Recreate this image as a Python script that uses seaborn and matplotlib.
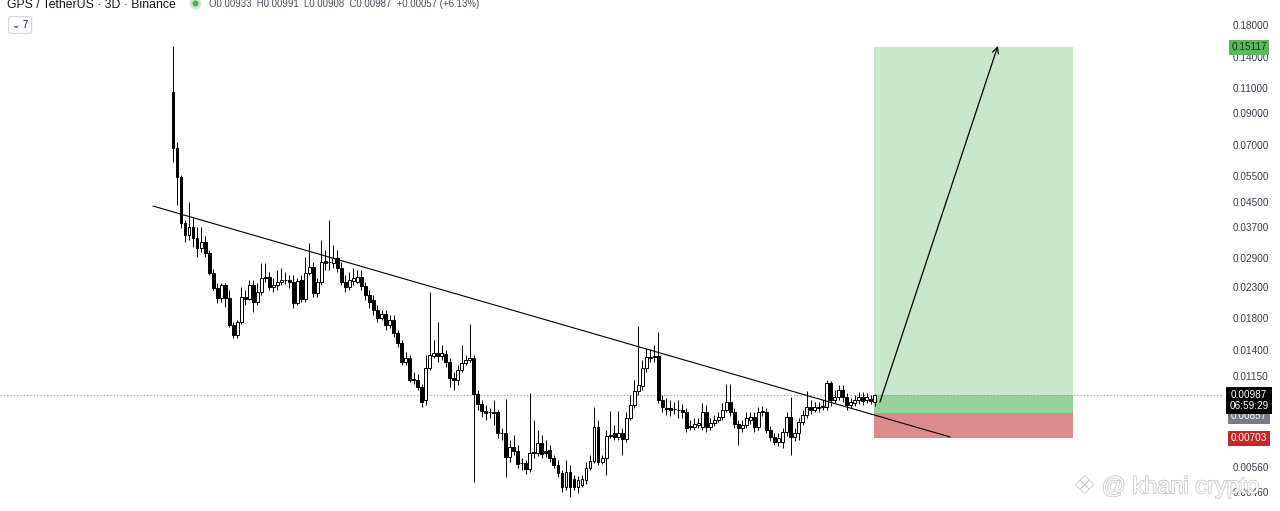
import matplotlib
matplotlib.use("Agg")
import matplotlib.pyplot as plt
import matplotlib.patheffects as pe
import matplotlib.transforms as mtransforms
from matplotlib.ticker import NullLocator
import numpy as np
import seaborn as sns

# GPS/USDT 3D candles (oldest first)
opens = [
    0.1065, 0.0686, 0.0546, 0.0381, 0.0347, 0.0369, 0.0339, 0.0313, 0.0328, 0.0301,
    0.0257, 0.0229, 0.0211, 0.0234, 0.0211, 0.0171, 0.0158, 0.0175, 0.0213, 0.0210,
    0.0234, 0.0205, 0.0222, 0.0247, 0.0249, 0.0230, 0.0234, 0.0240, 0.0243, 0.0243,
    0.0240, 0.0203, 0.0243, 0.0210, 0.0257, 0.0270, 0.0220, 0.0240, 0.0283, 0.0280,
    0.0278, 0.0290, 0.0268, 0.0240, 0.0230, 0.0242, 0.0240, 0.0249, 0.0232, 0.0216,
    0.0208, 0.0192, 0.0181, 0.0186, 0.0171, 0.0178, 0.0161, 0.0149, 0.0128, 0.0132,
    0.0111, 0.0111, 0.0105, 0.00949, 0.0122, 0.0134, 0.0137, 0.0134, 0.0136, 0.0128,
    0.0113, 0.0111, 0.0120, 0.0127, 0.0130, 0.0132, 0.00995, 0.00919, 0.00870, 0.00864,
    0.00864, 0.00864, 0.00733, 0.00733, 0.00607, 0.00657, 0.00636, 0.00580, 0.00580, 0.00553,
    0.00626, 0.00626, 0.00678, 0.00636, 0.00641, 0.00603, 0.00570, 0.00536, 0.00480, 0.00540,
    0.00511, 0.00480, 0.00487, 0.00507, 0.00557, 0.00589, 0.00768, 0.00584, 0.00603, 0.00716,
    0.00733, 0.00710, 0.00733, 0.00699, 0.00824, 0.00912, 0.01019, 0.01059, 0.01220, 0.01320,
    0.01330, 0.01340, 0.00949, 0.00891, 0.00891, 0.00884, 0.00877, 0.00877, 0.00864, 0.00768,
    0.00768, 0.00780, 0.00768, 0.00864, 0.00768, 0.00793, 0.00811, 0.00831, 0.00877, 0.00934,
    0.00864, 0.00786, 0.00762, 0.00780, 0.00811, 0.00831, 0.00768, 0.00864, 0.00864, 0.00750,
    0.00710, 0.00683, 0.00683, 0.00738, 0.00831, 0.00710, 0.00733, 0.00799, 0.00844, 0.00898,
    0.00877, 0.00898, 0.00898, 0.00898, 0.01084, 0.00949, 0.00972, 0.01027, 0.00972, 0.00912,
    0.00927, 0.00949, 0.00972, 0.00949, 0.00956, 0.00933,
]
closes = [
    0.0686, 0.0546, 0.0381, 0.0347, 0.0369, 0.0339, 0.0313, 0.0328, 0.0301, 0.0257,
    0.0229, 0.0211, 0.0234, 0.0211, 0.0171, 0.0158, 0.0175, 0.0213, 0.0210, 0.0234,
    0.0205, 0.0222, 0.0247, 0.0249, 0.0230, 0.0234, 0.0240, 0.0243, 0.0243, 0.0240,
    0.0203, 0.0242, 0.0210, 0.0257, 0.0270, 0.0220, 0.0240, 0.0280, 0.0278, 0.0280,
    0.0290, 0.0268, 0.0240, 0.0230, 0.0243, 0.0247, 0.0249, 0.0232, 0.0216, 0.0205,
    0.0192, 0.0181, 0.0186, 0.0171, 0.0178, 0.0161, 0.0149, 0.0128, 0.0132, 0.0111,
    0.0112, 0.0105, 0.00934, 0.0122, 0.0135, 0.0137, 0.0134, 0.0137, 0.0128, 0.0113,
    0.0111, 0.0120, 0.0127, 0.0130, 0.0132, 0.00995, 0.00919, 0.00870, 0.00857, 0.00864,
    0.00860, 0.00733, 0.00735, 0.00607, 0.00657, 0.00636, 0.00575, 0.00578, 0.00553, 0.00626,
    0.00631, 0.00678, 0.00621, 0.00626, 0.00603, 0.00570, 0.00536, 0.00480, 0.00540, 0.00480,
    0.00480, 0.00507, 0.00511, 0.00557, 0.00589, 0.00768, 0.00584, 0.00603, 0.00716, 0.00721,
    0.00710, 0.00733, 0.00699, 0.00824, 0.00912, 0.01019, 0.01068, 0.01220, 0.01330, 0.01330,
    0.01340, 0.00949, 0.00898, 0.00884, 0.00877, 0.00886, 0.00875, 0.00864, 0.00762, 0.00774,
    0.00786, 0.00793, 0.00864, 0.00768, 0.00793, 0.00811, 0.00831, 0.00877, 0.00934, 0.00864,
    0.00786, 0.00762, 0.00780, 0.00824, 0.00831, 0.00768, 0.00864, 0.00870, 0.00750, 0.00710,
    0.00683, 0.00704, 0.00738, 0.00831, 0.00710, 0.00733, 0.00799, 0.00844, 0.00898, 0.00877,
    0.00898, 0.00891, 0.00905, 0.01084, 0.00949, 0.00972, 0.01027, 0.00972, 0.00912, 0.00934,
    0.00949, 0.00972, 0.00942, 0.00972, 0.00942, 0.00987,
]
highs = [
    0.1528, 0.0719, 0.0555, 0.0390, 0.0449, 0.0396, 0.0369, 0.0369, 0.0344, 0.0308,
    0.0265, 0.0238, 0.0238, 0.0238, 0.0225, 0.0175, 0.0178, 0.0230, 0.0225, 0.0243,
    0.0243, 0.0238, 0.0278, 0.0278, 0.0259, 0.0247, 0.0263, 0.0268, 0.0259, 0.0253,
    0.0253, 0.0247, 0.0253, 0.0292, 0.0326, 0.0280, 0.0247, 0.0333, 0.0308, 0.0390,
    0.0320, 0.0308, 0.0280, 0.0253, 0.0259, 0.0268, 0.0263, 0.0263, 0.0240, 0.0225,
    0.0216, 0.0200, 0.0192, 0.0192, 0.0185, 0.0185, 0.0164, 0.0152, 0.0138, 0.0135,
    0.0118, 0.0116, 0.0108, 0.0135, 0.0222, 0.0152, 0.0175, 0.0146, 0.0141, 0.0132,
    0.0118, 0.0125, 0.0146, 0.0135, 0.0172, 0.0135, 0.0103, 0.00949, 0.00912, 0.00891,
    0.00949, 0.00877, 0.00762, 0.00956, 0.00694, 0.00721, 0.00667, 0.00603, 0.00593, 0.01003,
    0.00811, 0.00750, 0.00721, 0.00694, 0.00667, 0.00617, 0.00593, 0.00548, 0.00593, 0.00570,
    0.00527, 0.00523, 0.00527, 0.00584, 0.00617, 0.00898, 0.00811, 0.00617, 0.00750, 0.00870,
    0.00780, 0.00870, 0.00762, 0.00864, 0.00987, 0.0111, 0.01697, 0.01299, 0.01428, 0.01417,
    0.01461, 0.01619, 0.00987, 0.00964, 0.00949, 0.00934, 0.00949, 0.00919, 0.00891, 0.00811,
    0.00824, 0.00824, 0.00927, 0.00912, 0.00824, 0.00844, 0.00864, 0.00927, 0.01076, 0.01076,
    0.00891, 0.00811, 0.00811, 0.00864, 0.00864, 0.00864, 0.00898, 0.00905, 0.00891, 0.00774,
    0.00733, 0.00733, 0.00762, 0.00864, 0.00972, 0.00762, 0.00824, 0.00877, 0.01019, 0.00949,
    0.00934, 0.00934, 0.00949, 0.0111, 0.01101, 0.01027, 0.01068, 0.01068, 0.01003, 0.00964,
    0.00987, 0.01011, 0.01011, 0.01003, 0.00987, 0.00991,
]
lows = [
    0.0615, 0.0439, 0.0366, 0.0328, 0.0333, 0.0315, 0.0292, 0.0303, 0.0292, 0.0253,
    0.0225, 0.0203, 0.0205, 0.0197, 0.0168, 0.0154, 0.0154, 0.0172, 0.0200, 0.0208,
    0.0189, 0.0200, 0.0216, 0.0240, 0.0225, 0.0222, 0.0225, 0.0234, 0.0236, 0.0229,
    0.0195, 0.0200, 0.0205, 0.0205, 0.0253, 0.0213, 0.0213, 0.0234, 0.0263, 0.0263,
    0.0268, 0.0259, 0.0234, 0.0222, 0.0225, 0.0234, 0.0238, 0.0225, 0.0208, 0.0195,
    0.0185, 0.0175, 0.0178, 0.0164, 0.0167, 0.0156, 0.0144, 0.0125, 0.0125, 0.0109,
    0.0108, 0.0103, 0.00898, 0.00912, 0.0120, 0.0132, 0.0128, 0.0130, 0.0123, 0.0105,
    0.0103, 0.0107, 0.0118, 0.0125, 0.0128, 0.00499, 0.00877, 0.00831, 0.00811, 0.00824,
    0.00780, 0.00704, 0.00694, 0.00519, 0.00584, 0.00617, 0.00557, 0.00548, 0.00532, 0.00540,
    0.00603, 0.00612, 0.00603, 0.00607, 0.00584, 0.00557, 0.00519, 0.00462, 0.00469, 0.00444,
    0.00469, 0.00458, 0.00480, 0.00491, 0.00548, 0.00580, 0.00570, 0.00575, 0.00527, 0.00704,
    0.00694, 0.00694, 0.00617, 0.00683, 0.00811, 0.00891, 0.00987, 0.01027, 0.01182, 0.01279,
    0.01279, 0.00927, 0.00864, 0.00844, 0.00837, 0.00850, 0.00824, 0.00824, 0.00738, 0.00750,
    0.00750, 0.00762, 0.00750, 0.00738, 0.00750, 0.00774, 0.00799, 0.00811, 0.00864, 0.00837,
    0.00762, 0.00667, 0.00738, 0.00762, 0.00786, 0.00738, 0.00750, 0.00837, 0.00733, 0.00688,
    0.00667, 0.00662, 0.00651, 0.00716, 0.00617, 0.00688, 0.00694, 0.00780, 0.00824, 0.00850,
    0.00864, 0.00864, 0.00877, 0.00877, 0.00905, 0.00927, 0.00949, 0.00934, 0.00877, 0.00891,
    0.00905, 0.00919, 0.00912, 0.00927, 0.00919, 0.00908,
]

price_ticks = [0.18, 0.14, 0.11, 0.09, 0.07, 0.055, 0.045, 0.037, 0.029,
               0.023, 0.018, 0.014, 0.0115, 0.0056, 0.0046]

# drawings: trend line and long position
trend_x = [-5.0, 193.8]
trend_y = [0.0435, 0.0071]
entry_price = 0.00857
target_price = 0.15117
stop_price = 0.00703
last_close = 0.00987
box_start, box_end = 174.8, 224.4

sns.set_theme(style="white")
plt.rcParams["font.family"] = ["Liberation Sans", "DejaVu Sans"]

W, H = 1280, 511
fig = plt.figure(figsize=(W / 100, H / 100), dpi=100)
ax = fig.add_axes([0, 0, 1222 / W, 1])
ax.set_facecolor("white")
ax.set_yscale("log")

o = np.array(opens)
c = np.array(closes)
idx = np.arange(len(c))
up = c >= o
body_bottom = np.minimum(o, c)
body_height = np.abs(c - o)
fills = np.where(up, "white", "black")

# long position zones
ax.fill_between([box_start, box_end], entry_price, target_price,
                color="#c8e6c9", lw=0, zorder=1)
ax.fill_between([box_start, box_end], entry_price, last_close,
                color="#97d09b", lw=0, zorder=1.1)
ax.fill_between([box_start, box_end], stop_price, entry_price,
                color="#db8b8b", lw=0, zorder=1)

ax.axhline(last_close, color="#9598a1", lw=0.8, ls=(0, (1, 2)), zorder=1.5)

ax.vlines(idx, lows, highs, color="black", linewidth=0.7, zorder=2)
ax.bar(idx, body_height, bottom=body_bottom, width=0.72, color=fills,
       edgecolor="black", linewidth=0.7, zorder=3)

sns.lineplot(x=trend_x, y=trend_y, ax=ax, color="black", lw=0.8, zorder=4)

ax.annotate("", xy=(205.7, 0.1528), xytext=(176.3, 0.00934),
            arrowprops=dict(arrowstyle="->", color="black", lw=0.9,
                            mutation_scale=11, shrinkA=0, shrinkB=0),
            zorder=5)

for s in ax.spines.values():
    s.set_visible(False)
ax.set_xticks([])
ax.yaxis.tick_right()
ax.set_yticks(price_ticks)
ax.set_yticklabels([f"{t:.5f}" for t in price_ticks])
ax.yaxis.set_minor_locator(NullLocator())
ax.tick_params(axis="y", which="both", length=0, pad=7.5,
               labelsize=7.2, labelcolor="#3a3e4a")
ax.set_xlim(-43.14, 261.6)
ax.set_ylim(0.003971, 0.2192)
ax.grid(False)

# price tags on the scale
tag = mtransforms.blended_transform_factory(ax.transAxes, ax.transData)
tag_x = 1249 / 1222
ax.text(tag_x, target_price, "0.15117", transform=tag, ha="center", va="center",
        fontsize=7.2, color="#16361a", clip_on=False,
        bbox=dict(boxstyle="square,pad=0.25", fc="#5cb85c", ec="none"))
ax.text(tag_x, 0.00837, "0.00857", transform=tag, ha="center", va="center",
        fontsize=7.2, color="white", clip_on=False, zorder=5,
        bbox=dict(boxstyle="square,pad=0.25", fc="#787b86", ec="none"))
ax.text(tag_x, 0.00945, "0.00987\n06:59:29", transform=tag, ha="center",
        va="center", fontsize=7.2, color="white", linespacing=1.15,
        clip_on=False, zorder=6,
        bbox=dict(boxstyle="square,pad=0.3", fc="black", ec="none"))
ax.text(tag_x, stop_price, "0.00703", transform=tag, ha="center", va="center",
        fontsize=7.2, color="white", clip_on=False,
        bbox=dict(boxstyle="square,pad=0.25", fc="#c62828", ec="none"))

# header
fig.text(7 / W, 1 - 5 / H, "GPS / TetherUS · 3D · Binance", ha="left",
         va="center", fontsize=8.8, color="#131722")
ax.scatter([195 / 1222], [1 - 3 / H], s=70, color="#c8e6c9",
           transform=ax.transAxes, clip_on=False, zorder=6, lw=0)
ax.scatter([195 / 1222], [1 - 3 / H], s=18, color="#4caf50",
           transform=ax.transAxes, clip_on=False, zorder=7, lw=0)
fig.text(209 / W, 1 - 4 / H,
         "O0.00933  H0.00991  L0.00908  C0.00987  +0.00057 (+6.13%)",
         ha="left", va="center", fontsize=6.9, color="#4a4e59")
fig.text(12 / W, 1 - 25 / H, "⌄ 7", ha="left", va="center", fontsize=7,
         color="#131722",
         bbox=dict(boxstyle="round,pad=0.35,rounding_size=0.2", fc="white",
                   ec="#d1d4dc", lw=0.8))

# watermark
fig.text(1074 / W, 1 - 487 / H, "❖ @ khani crypto", ha="left", va="center",
         fontsize=17, color="white", alpha=0.95,
         path_effects=[pe.withStroke(linewidth=1.1, foreground="#c4c4c4")])

fig.savefig("out.png", dpi=100)
